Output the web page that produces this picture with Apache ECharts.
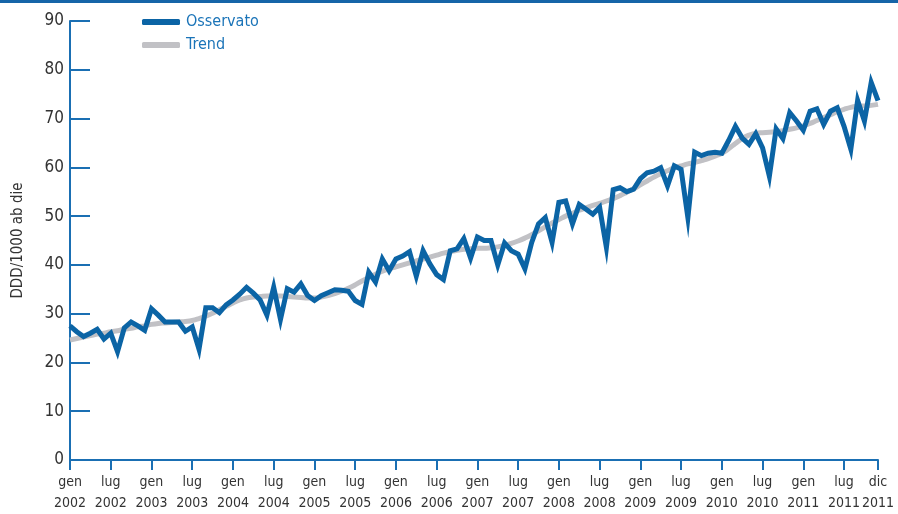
<!DOCTYPE html>
<html>
<head>
<meta charset="utf-8">
<script src="https://cdn.jsdelivr.net/npm/echarts@6/dist/echarts.min.js"></script>
<style>
  html, body { margin: 0; padding: 0; background: #fff; }
  #chart { width: 898px; height: 514px; }
</style>
</head>
<body>
<div id="chart"></div>
<script>
var years = [2002, 2003, 2004, 2005, 2006, 2007, 2008, 2009, 2010, 2011];
var monthNames = ['gen', 'feb', 'mar', 'apr', 'mag', 'giu', 'lug', 'ago', 'set', 'ott', 'nov', 'dic'];

// osservato, un anno per riga
var observed = [
  27.5, 26.3, 25.3, 26.0, 26.8, 24.8, 26.0, 22.2, 27.1, 28.3, 27.5, 26.6,
  31.0, 29.7, 28.3, 28.3, 28.3, 26.4, 27.3, 22.7, 31.2, 31.2, 30.2, 31.8,
  32.8, 34.0, 35.4, 34.2, 32.8, 29.7, 35.4, 28.8, 35.1, 34.4, 36.1, 33.7,
  32.7, 33.7, 34.3, 34.9, 34.8, 34.6, 32.7, 31.9, 38.5, 36.5, 41.2, 38.8,
  41.2, 41.8, 42.7, 37.7, 42.9, 40.2, 38.0, 37.0, 42.9, 43.3, 45.4, 41.4,
  45.7, 45.0, 45.0, 40.0, 44.5, 42.9, 42.2, 39.2, 44.6, 48.4, 49.7, 44.6,
  52.8, 53.1, 48.4, 52.4, 51.4, 50.4, 51.8, 43.6, 55.4, 55.8, 55.0, 55.5,
  57.7, 58.9, 59.2, 59.9, 56.2, 60.3, 59.6, 49.7, 63.1, 62.4, 62.9, 63.1,
  62.9, 65.5, 68.4, 66.0, 64.7, 66.9, 64.0, 58.2, 67.9, 65.9, 71.2, 69.5,
  67.6, 71.5, 72.0, 68.8, 71.5, 72.2, 68.4, 63.7, 73.7, 69.5, 77.4, 73.7
];

// trend
var trend = [
  24.6, 24.9, 25.2, 25.5, 25.8, 26.0, 26.3, 26.5, 26.8, 27.0, 27.3, 27.5,
  27.8, 28.0, 28.1, 28.2, 28.3, 28.4, 28.6, 29.0, 29.5, 30.1, 30.8, 31.5,
  32.2, 32.8, 33.2, 33.4, 33.5, 33.6, 33.6, 33.6, 33.5, 33.4, 33.3, 33.2,
  33.2, 33.4, 33.7, 34.1, 34.6, 35.2, 35.9, 36.7, 37.4, 38.1, 38.7, 39.2,
  39.6, 40.0, 40.4, 40.8, 41.2, 41.6, 42.0, 42.4, 42.7, 43.0, 43.2, 43.3,
  43.4, 43.4, 43.5, 43.7, 44.0, 44.4, 44.9, 45.5, 46.2, 47.0, 47.8, 48.6,
  49.3, 50.0, 50.6, 51.2, 51.7, 52.2, 52.6, 53.1, 53.6, 54.2, 54.9, 55.6,
  56.4, 57.2, 58.0, 58.7, 59.3, 59.9, 60.3, 60.7, 61.0, 61.4, 61.8, 62.3,
  62.9, 63.8, 64.9, 65.9, 66.6, 67.0, 67.1, 67.2, 67.3, 67.5, 67.8, 68.1,
  68.5, 69.0, 69.6, 70.2, 70.8, 71.4, 71.9, 72.3, 72.5, 72.6, 72.7, 72.9
];

var categories = [];
years.forEach(function (y) {
  monthNames.forEach(function (m) {
    categories.push(m + '\n' + y);
  });
});

var blue = '#0b64a5';
var axisBlue = '#1a6fb3';
var font = "'Liberation Sans Narrow', 'DejaVu Sans Condensed', 'Noto Sans', sans-serif";
var last = categories.length - 1;

function showIdx(i) {
  return i % 6 === 0 || i === last;
}

var chart = echarts.init(document.getElementById('chart'));

var option = {
  animation: false,
  textStyle: { fontFamily: font },
  graphic: [
    {
      type: 'rect',
      shape: { x: 0, y: 0, width: 898, height: 3 },
      style: { fill: '#1565a8' }
    }
  ],
  legend: {
    orient: 'vertical',
    left: 137,
    top: 9,
    itemWidth: 38,
    itemHeight: 6,
    itemGap: 7,
    icon: 'roundRect',
    data: ['Osservato', 'Trend'],
    textStyle: { color: '#1b74b8', fontSize: 16, fontFamily: font, padding: [0, 0, 0, 1] }
  },
  grid: {
    left: 70,
    right: 20,
    top: 21,
    bottom: 52
  },
  xAxis: {
    type: 'category',
    boundaryGap: false,
    data: categories,
    axisLine: { lineStyle: { color: axisBlue, width: 2 } },
    axisTick: {
      interval: function (i) { return showIdx(i); },
      length: 10,
      lineStyle: { color: axisBlue, width: 2 }
    },
    axisLabel: {
      interval: function (i) { return showIdx(i); },
      showMaxLabel: true,
      hideOverlap: false,
      color: '#333',
      fontSize: 14,
      lineHeight: 21,
      margin: 12,
      fontFamily: font
    },
    splitLine: { show: false }
  },
  yAxis: {
    type: 'value',
    min: 0,
    max: 90,
    interval: 10,
    name: 'DDD/1000 ab die',
    nameLocation: 'middle',
    nameGap: 44,
    nameRotate: 90,
    nameTextStyle: { color: '#333', fontSize: 15, fontFamily: font },
    axisLine: { show: true, lineStyle: { color: axisBlue, width: 2 } },
    axisTick: {
      show: true,
      inside: true,
      length: 20,
      lineStyle: { color: axisBlue, width: 2 }
    },
    axisLabel: { color: '#333', fontSize: 17, margin: 6, fontFamily: font },
    splitLine: { show: false }
  },
  series: [
    {
      name: 'Trend',
      type: 'line',
      data: trend,
      smooth: true,
      showSymbol: false,
      lineStyle: { color: '#c1c1c5', width: 5 },
      itemStyle: { color: '#c1c1c5' },
      z: 2
    },
    {
      name: 'Osservato',
      type: 'line',
      data: observed,
      showSymbol: false,
      lineStyle: { color: blue, width: 5, join: 'miter' },
      itemStyle: { color: blue },
      z: 3
    }
  ]
};

chart.setOption(option);
</script>
</body>
</html>
